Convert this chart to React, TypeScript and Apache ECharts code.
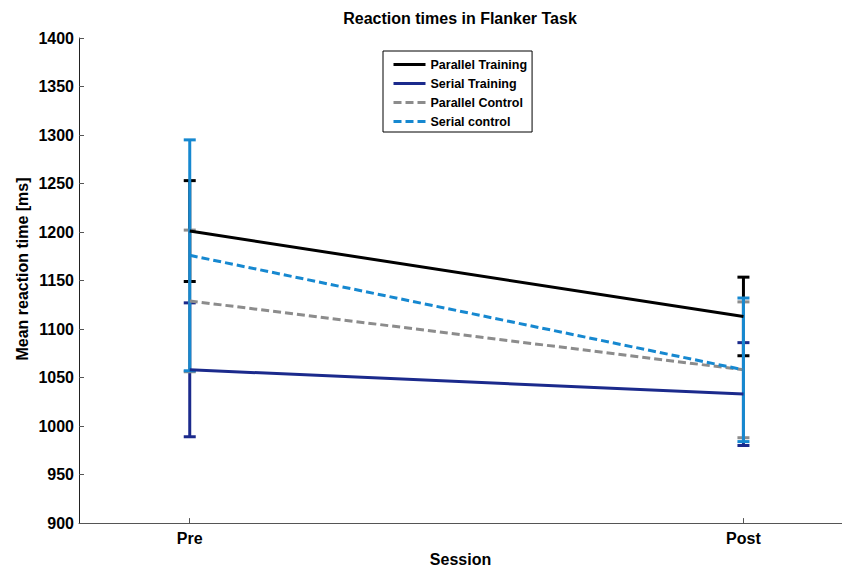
import React, { useEffect, useRef } from "react";
import * as echarts from "echarts";

const sessions = ["Pre", "Post"];
const sessionX = [1, 2];
const seriesNames = ["Parallel Training", "Serial Training", "Parallel Control", "Serial control"];
const parallelTraining = [1201, 1113];
const parallelTrainingErr = [52, 40.5];
const serialTraining = [1058, 1033];
const serialTrainingErr = [69, 53];
const parallelControl = [1129, 1058];
const parallelControlErr = [73, 70];
const serialControl = [1176, 1058];
const serialControlErr = [119, 74];

const groupMeans = [parallelTraining, serialTraining, parallelControl, serialControl];
const groupErrs = [parallelTrainingErr, serialTrainingErr, parallelControlErr, serialControlErr];
const colors = ["#000000", "#1b2a8c", "#8c8c8c", "#1688d0"];
const dashed = [false, false, true, true];

const FONT = "'Liberation Sans', Arial, sans-serif";

export default function App() {
  const ref = useRef<HTMLDivElement>(null);
  useEffect(() => {
    if (!ref.current) return;
    const chart = echarts.init(ref.current, undefined, { renderer: "svg" });
    const series: any[] = [];
    groupMeans.forEach((means, gi) => {
      series.push({
        name: seriesNames[gi],
        type: "line",
        data: means.map((v, i) => [sessionX[i], v]),
        symbol: "none",
        lineStyle: { color: colors[gi], width: 3, type: dashed[gi] ? [8, 4] : "solid" },
        itemStyle: { color: colors[gi] },
      });
      series.push({
        name: seriesNames[gi] + " err",
        type: "custom",
        clip: false,
        data: means.map((v, i) => [sessionX[i], v - groupErrs[gi][i], v + groupErrs[gi][i]]),
        encode: { x: 0, y: [1, 2] },
        renderItem: (params: any, api: any) => {
          const x = api.value(0);
          const lo = api.coord([x, api.value(1)]);
          const hi = api.coord([x, api.value(2)]);
          const hw = 6;
          const style = { stroke: colors[gi], lineWidth: 3 };
          return {
            type: "group",
            children: [
              { type: "line", shape: { x1: lo[0], y1: lo[1], x2: hi[0], y2: hi[1] }, style },
              { type: "line", shape: { x1: lo[0] - hw, y1: lo[1], x2: lo[0] + hw, y2: lo[1] }, style },
              { type: "line", shape: { x1: hi[0] - hw, y1: hi[1], x2: hi[0] + hw, y2: hi[1] }, style },
            ],
          };
        },
      });
    });
    chart.setOption({
      animation: false,
      backgroundColor: "#ffffff",
      title: {
        text: "Reaction times in Flanker Task",
        left: 455,
        top: 5,
        textAlign: "center",
        textStyle: { fontFamily: FONT, fontWeight: "bold", fontSize: 16, color: "#000" },
      },
      legend: {
        data: seriesNames,
        orient: "vertical",
        left: 383,
        top: 51,
        padding: [7, 5, 4, 9],
        itemWidth: 32,
        itemHeight: 14,
        itemGap: 6,
        borderColor: "#000",
        borderWidth: 1,
        itemStyle: { opacity: 0 },
        lineStyle: { width: 3 },
        textStyle: { fontFamily: FONT, fontWeight: "bold", fontSize: 12.5, color: "#000" },
      },
      graphic: [
        {
          type: "text",
          x: 22,
          y: 269,
          rotation: Math.PI / 2,
          style: {
            text: "Mean reaction time [ms]",
            fontFamily: FONT,
            fontWeight: "bold",
            fontSize: 16,
            fill: "#000",
            align: "center",
            verticalAlign: "middle",
          },
        },
      ],
      grid: { left: 79, right: 0, top: 38, bottom: 47, containLabel: false },
      xAxis: {
        type: "value",
        min: 0.8,
        max: 2.178,
        name: "Session",
        nameLocation: "middle",
        nameGap: 27,
        nameTextStyle: { fontFamily: FONT, fontWeight: "bold", fontSize: 16, color: "#000", padding: [0, 0, 0, 0] },
        axisLine: { show: true, lineStyle: { color: "#555", width: 1 } },
        axisTick: { show: true, inside: true, length: 5, customValues: sessionX, lineStyle: { color: "#555" } },
        axisLabel: {
          customValues: sessionX,
          formatter: (v: number) => sessions[sessionX.indexOf(v)] ?? "",
          margin: 7,
          fontFamily: FONT,
          fontWeight: "bold",
          fontSize: 16,
          color: "#000",
        },
        splitLine: { show: false },
      },
      yAxis: {
        type: "value",
        min: 900,
        max: 1400,
        interval: 50,
        axisLine: { show: true, lineStyle: { color: "#222", width: 1 } },
        axisTick: { show: true, inside: true, length: 5, lineStyle: { color: "#555" } },
        axisLabel: {
          margin: 5,
          formatter: (v: number) => String(v),
          fontFamily: FONT,
          fontWeight: "bold",
          fontSize: 16,
          color: "#000",
        },
        splitLine: { show: false },
      },
      series,
    });
    return () => chart.dispose();
  }, []);
  return (
    <div
      ref={ref}
      style={{ position: "fixed", left: 0, top: 0, width: 842, height: 572, background: "#fff" }}
    />
  );
}
